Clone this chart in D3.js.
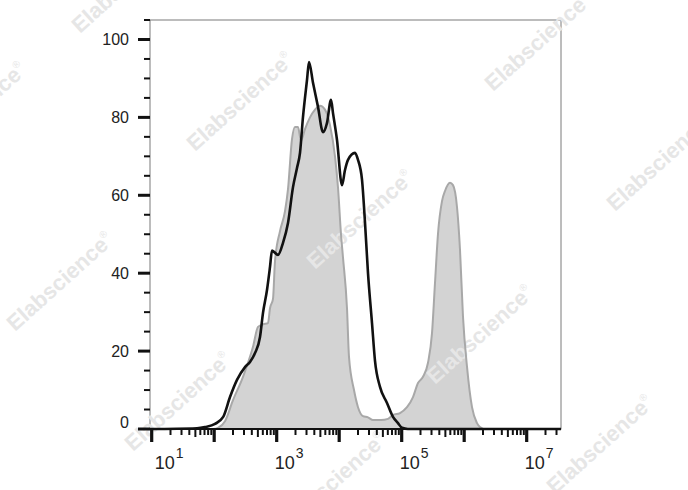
<!DOCTYPE html>
<html><head><meta charset="utf-8">
<script src="https://cdn.jsdelivr.net/npm/d3@7/dist/d3.min.js"></script>
<style>html,body{margin:0;padding:0;background:#fff;}svg{display:block;}</style>
</head><body>
<svg id="chart" width="688" height="490"></svg>
<script>
// ---- data (x as log10 of fluorescence, y as % of max) ----
const blackLogX = [0.973,1.725,1.853,2.013,2.144,2.253,2.365,2.493,2.573,2.653,2.733,2.781,2.845,2.893,2.925,3.021,3.101,3.181,3.261,3.325,3.373,3.421,3.485,3.517,3.581,3.661,3.741,3.805,3.869,3.901,3.965,4.045,4.093,4.141,4.253,4.301,4.365,4.413,4.461,4.525,4.573,4.653,4.765,4.861,4.941,5.005,5.1,7.549];
const blackY    = [0,0.2,0.5,1.3,3.1,8.2,12.6,15.9,17.2,19.5,23.6,29.8,35.7,41.6,45.8,44.7,47.8,52.9,62.1,67,70.9,80.1,89.6,94.2,88.9,82.7,76.2,78.6,84.5,81.1,74.2,62.6,66.5,69.1,70.9,69.1,64,53,40,27.2,17.5,10.8,6.7,3.1,1.5,0.3,0,0];
const grayLogX  = [1.981,2.061,2.173,2.301,2.461,2.621,2.701,2.781,2.861,2.893,2.941,2.973,3.053,3.133,3.181,3.245,3.293,3.341,3.389,3.453,3.533,3.613,3.693,3.773,3.853,3.933,3.981,4.029,4.061,4.125,4.157,4.237,4.301,4.381,4.461,4.541,4.669,4.781,4.861,4.973,5.085,5.181,5.261,5.341,5.421,5.485,5.533,5.581,5.645,5.693,5.773,5.821,5.885,5.933,5.981,6.045,6.125,6.205,6.253,6.3];
const grayY     = [0,0.3,2,7.4,13.4,21.1,26.2,26.9,27.2,31,33.4,43.1,50.8,55.9,61.6,74.4,77.5,77.5,74,77,80,82,83,82,78,70,62,50,44,31,18.5,10,5.6,3.3,3,2.3,2.3,2.6,3.6,4.1,5.6,8.2,11.8,13.4,17,24.6,37.5,50.1,58.5,61.1,63.2,62.6,57,46,28.8,16,5.6,1.5,0.5,0];
const yTicks = [0,20,40,60,80,100];
const xDecades = [1,2,3,4,5,6,7];
const xLabelExp = ["1","3","5","7"];
const watermark = "Elabscience";

// ---- layout ----
const L = 150, R = 561, T = 20, B = 429;
const svg = d3.select("#chart");
const x = d3.scaleLog().domain([Math.pow(10,0.973), Math.pow(10,7.549)]).range([L, R]);
const y = d3.scaleLinear().domain([0,105]).range([B, T]);

const blackPts = blackLogX.map((v,i)=>[Math.pow(10,v), blackY[i]]);
const grayPts  = grayLogX.map((v,i)=>[Math.pow(10,v), grayY[i]]);

const area = d3.area().x(d=>x(d[0])).y0(y(0)).y1(d=>y(d[1])).curve(d3.curveMonotoneX);
const line = d3.line().x(d=>x(d[0])).y(d=>y(d[1])).curve(d3.curveMonotoneX);

// frame
svg.append("rect").attr("x",L).attr("y",T).attr("width",R-L).attr("height",B-T)
  .attr("fill","none").attr("stroke","#7a7a7a").attr("stroke-width",1);

// gray filled histogram
svg.append("path").datum(grayPts).attr("d",area).attr("fill","#d3d3d3");

// watermarks
const wmPos = [[80,34],[195,152],[315,270],[435,385],[493,92],[615,212],[15,332],[133,452],[555,495],[-72,162],[288,532]];
const wg = svg.append("g");
wmPos.forEach(p=>{
  const t = wg.append("text").attr("transform",`translate(${p[0]},${p[1]}) rotate(-42)`)
    .attr("font-family","Liberation Sans, Arial, sans-serif").attr("font-weight","bold")
    .attr("font-size",22).attr("fill","#e6e6e6").text(watermark);
  t.append("tspan").attr("font-size",10).attr("dy",-10).attr("font-weight","normal").text("®");
});

// gray outline
svg.append("path").datum(grayPts).attr("d",line).attr("fill","none")
  .attr("stroke","#a8a8a8").attr("stroke-width",2);
// black line
svg.append("path").datum(blackPts).attr("d",line).attr("fill","none")
  .attr("stroke","#111").attr("stroke-width",2.6).attr("stroke-linejoin","round");

// y axis ticks
const yMinor = d3.range(0,106,5).filter(v=>v%20!==0);
svg.append("g").selectAll("line").data(yMinor).join("line")
  .attr("x1",144).attr("x2",L).attr("y1",d=>y(d)).attr("y2",d=>y(d))
  .attr("stroke","#111").attr("stroke-width",2);
svg.append("g").selectAll("line").data(yTicks).join("line")
  .attr("x1",138).attr("x2",L).attr("y1",d=>y(d)).attr("y2",d=>y(d))
  .attr("stroke","#111").attr("stroke-width",3);
svg.append("g").selectAll("text").data(yTicks).join("text")
  .attr("x",129).attr("y",d=>y(d)+(d===0?-1:5.5)).attr("text-anchor","end")
  .attr("font-family","Liberation Sans, Arial, sans-serif").attr("font-size",16).attr("fill","#222")
  .text(d=>d);

// x axis baseline
svg.append("line").attr("x1",138).attr("x2",R).attr("y1",B).attr("y2",B)
  .attr("stroke","#111").attr("stroke-width",2);
// x minor ticks
const xMinor = [];
xDecades.forEach(e=>{ for(let m=2;m<=9;m++){ const v=m*Math.pow(10,e); if(x(v)<=R) xMinor.push({v,m}); } });
xMinor.push({v:2*Math.pow(10,0)*10, m:2}); // placeholder removed below
const xm = xMinor.filter((d,i)=>i<xMinor.length-1);
svg.append("g").selectAll("line").data(xm).join("line")
  .attr("x1",d=>x(d.v)).attr("x2",d=>x(d.v)).attr("y1",B).attr("y2",d=>d.m===5?B+8:B+6)
  .attr("stroke","#111").attr("stroke-width",2);
// x major ticks
svg.append("g").selectAll("line").data(xDecades).join("line")
  .attr("x1",d=>x(Math.pow(10,d))).attr("x2",d=>x(Math.pow(10,d))).attr("y1",B).attr("y2",B+13)
  .attr("stroke","#111").attr("stroke-width",3.2);
// x labels
const xl = svg.append("g").selectAll("text").data(xLabelExp).join("text")
  .attr("x",d=>x(Math.pow(10,+d)) - 2 + (d==="1"?5:0)).attr("y",469)
  .attr("font-family","Liberation Sans, Arial, sans-serif").attr("font-size",18).attr("fill","#222");
xl.append("tspan").text("10");
xl.append("tspan").attr("font-size",14).attr("dy",-11).attr("dx",1).text(d=>d);
</script>
</body></html>
